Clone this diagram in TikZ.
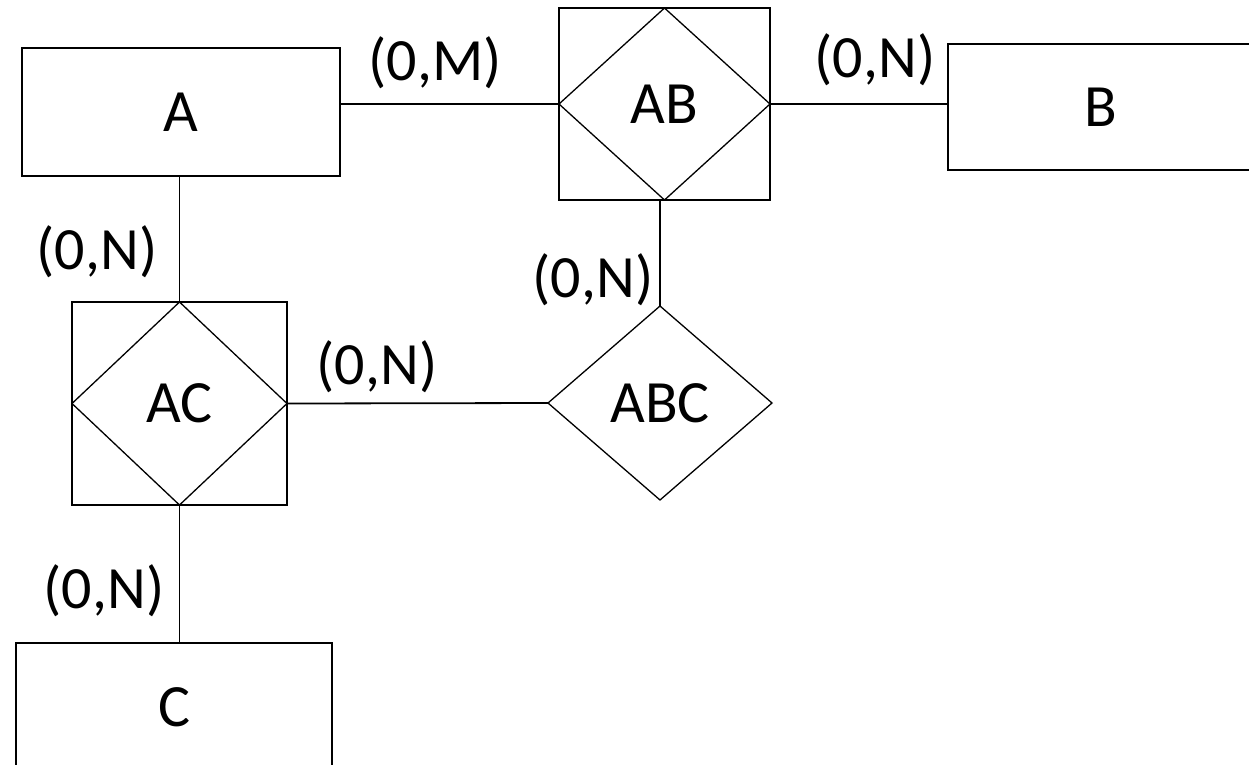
\documentclass[tikz,border=0pt]{standalone}
\usepackage{fontspec}
\setmainfont{Carlito}
\usetikzlibrary{shapes.geometric}

\tikzset{
  entity/.style={draw, line width=2pt, rectangle, inner sep=0pt, outer sep=0pt},
  assocbox/.style={draw, line width=2pt, rectangle, inner sep=0pt, outer sep=0pt},
  relation/.style={draw, line width=1.3pt, diamond, inner sep=0pt, outer sep=0pt},
  link/.style={line width=1.8pt},
  card/.style={inner sep=0pt},
}

\begin{document}
\begin{tikzpicture}[x=1pt,y=-1pt,font=\fontsize{60}{72}\selectfont]
%
\clip (0,0) rectangle (1249,764);
%
% entities
\node[entity, minimum width=318pt, minimum height=128pt] (A) at (181,112) {A};
\node[entity, minimum width=306pt, minimum height=126pt] (B) at (1101,107) {B};
\node[entity, minimum width=316pt, minimum height=128pt] (C) at (174,707) {C};
%
% associative entities (diamond in a box)
\node[assocbox, minimum width=211pt, minimum height=192pt] (AB) at (664.5,104) {AB};
\draw[line width=1.3pt] (AB.north) -- (AB.east) -- (AB.south) -- (AB.west) -- cycle;
\node[assocbox, minimum width=215pt, minimum height=203pt] (AC) at (179.5,403.5) {AC};
\draw[line width=1.3pt] (AC.north) -- (AC.east) -- (AC.south) -- (AC.west) -- cycle;
%
% relationship
\node[relation, minimum width=224pt, minimum height=194pt] (ABC) at (660,403) {ABC};
%
% links
\draw[link] (A.east |- AB.west) -- (AB.west);
\draw[link] (AB.east) -- (AB.east -| B.west);
\draw[link] (AC.north) -- (AC.north |- A.south);
\draw[link] (AC.south) -- (AC.south |- C.north);
\draw[link] (AC.east) -- (ABC.west);
\draw[link] (ABC.north) -- (ABC.north |- AB.south);
%
% cardinalities
\node[card] (cA_AB) at (435,63) {(0,M)};
\node[card] (cAB_B) at (875,60) {(0,N)};
\node[card] (cA_AC) at (97,252) {(0,N)};
\node[card] (cAB_ABC) at (593,280) {(0,N)};
\node[card] (cAC_ABC) at (377,367) {(0,N)};
\node[card] (cAC_C) at (104,591) {(0,N)};
%
\end{tikzpicture}
\end{document}
